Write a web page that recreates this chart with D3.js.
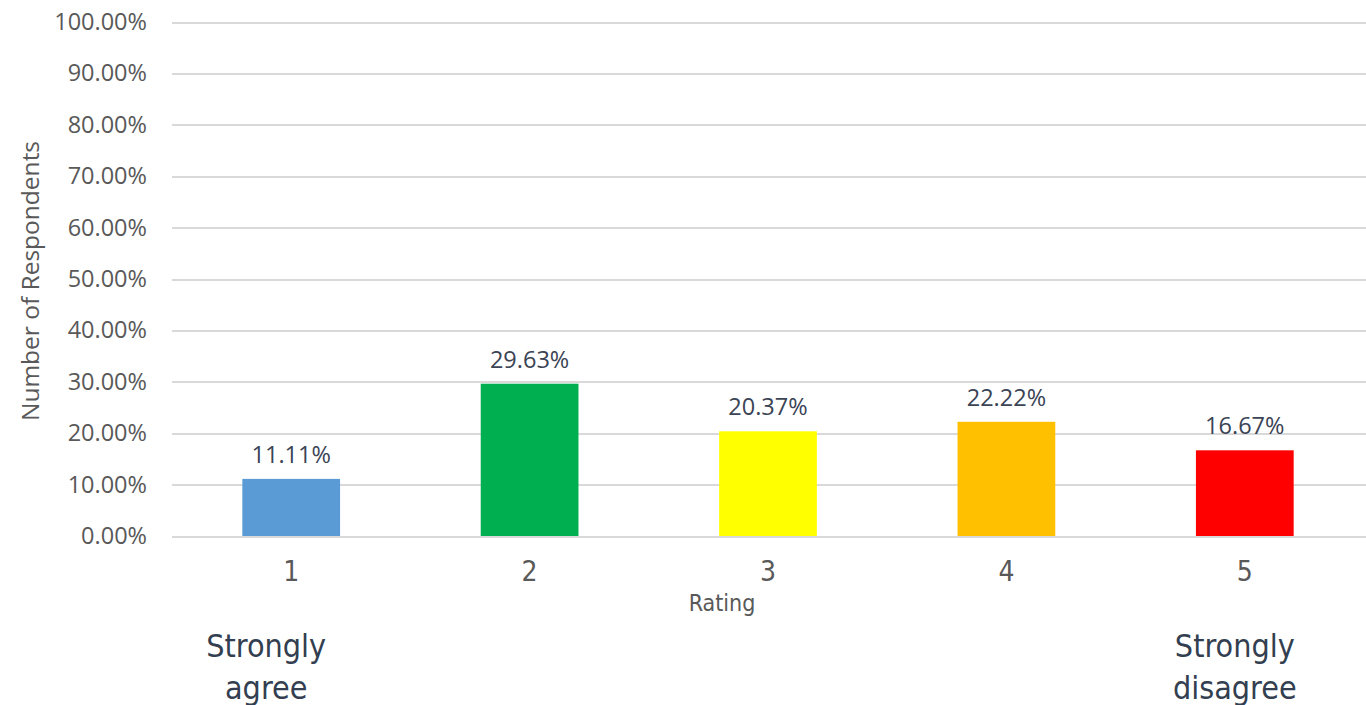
<!doctype html>
<html>
<head>
<script src="https://d3js.org/d3.v7.min.js"></script>
<style>
  body { margin: 0; background: #fff; }
  .grid line { stroke: #d9d9d9; stroke-width: 2; shape-rendering: crispEdges; }
  .grid path { display: none; }
  .ytick text { font-family: "Open Sans", sans-serif; font-size: 23.5px; fill: #595959; }
  .xtick text { font-family: "DejaVu Sans Condensed", "DejaVu Sans", sans-serif; font-size: 28px; fill: #595959; }
</style>
</head>
<body>
<script>
var ratings = ["1", "2", "3", "4", "5"];
var shares = [11.11, 29.63, 20.37, 22.22, 16.67];
var barColors = ["#5b9bd5", "#00b050", "#ffff00", "#ffc000", "#ff0000"];
var yTicks = [0, 10, 20, 30, 40, 50, 60, 70, 80, 90, 100];
var endLabels = [["Strongly", "agree"], [], [], [], ["Strongly", "disagree"]];

var width = 1366, height = 705;
var plotLeft = 172, plotRight = 1364, plotTop = 22, plotBottom = 536;

var svg = d3.select("body").append("svg").attr("width", width).attr("height", height);

var x = d3.scaleBand().domain(ratings).range([plotLeft, plotRight]).paddingInner(0.59).paddingOuter(0.295);
var y = d3.scaleLinear().domain([0, 100]).range([plotBottom, plotTop]);

// gridlines
svg.append("g").attr("class", "grid")
  .attr("transform", "translate(" + plotLeft + ",0)")
  .call(d3.axisLeft(y).tickValues(yTicks).tickSize(-(width - plotLeft)).tickFormat(""));

// y tick labels
svg.append("g").attr("class", "ytick")
  .attr("transform", "translate(" + (plotLeft - 22) + ",0)")
  .call(d3.axisLeft(y).tickValues(yTicks).tickSize(0).tickFormat(function(d) { return d.toFixed(2) + "%"; }))
  .call(function(g) { g.select(".domain").remove(); });

// bars
svg.selectAll(".bar").data(shares).enter().append("rect")
  .attr("class", "bar")
  .attr("x", function(d, i) { return x(ratings[i]); })
  .attr("y", function(d) { return y(d); })
  .attr("width", x.bandwidth())
  .attr("height", function(d) { return y(0) - y(d); })
  .style("fill", function(d, i) { return barColors[i]; });

// data labels
svg.selectAll(".val").data(shares).enter().append("text")
  .attr("x", function(d, i) { return x(ratings[i]) + x.bandwidth() / 2; })
  .attr("y", function(d) { return y(d) - 16; })
  .attr("text-anchor", "middle")
  .style("font-family", "Open Sans, sans-serif")
  .style("font-size", "23.5px")
  .style("fill", "#3b4455")
  .text(function(d) { return d.toFixed(2) + "%"; });

// x tick labels
svg.append("g").attr("class", "xtick")
  .attr("transform", "translate(0," + (plotBottom + 18) + ")")
  .call(d3.axisBottom(x).tickSize(0).tickPadding(0))
  .call(function(g) { g.select(".domain").remove(); g.selectAll("text").attr("dy", "0.95em"); });

// axis titles
svg.append("text")
  .attr("x", x("3") + x.bandwidth() / 2 - 46)
  .attr("y", 611)
  .attr("text-anchor", "middle")
  .style("font-family", "DejaVu Sans Condensed, sans-serif")
  .style("font-size", "23px")
  .style("fill", "#595959")
  .text("Rating");

svg.append("text")
  .attr("transform", "translate(39," + ((plotTop + plotBottom) / 2 + 2) + ") rotate(-90)")
  .attr("text-anchor", "middle")
  .style("font-family", "Open Sans, sans-serif")
  .style("font-size", "24.5px")
  .style("fill", "#595959")
  .text("Number of Respondents");

// end labels
endLabels.forEach(function(lines, i) {
  lines.forEach(function(t, j) {
    svg.append("text")
      .attr("x", x(ratings[i]) + x.bandwidth() / 2 + (i === 0 ? -25 : -10))
      .attr("y", 657 + j * 42)
      .attr("text-anchor", "middle")
      .style("font-family", "DejaVu Sans Condensed, sans-serif")
      .style("font-size", "32px")
      .style("fill", "#333f50")
      .text(t);
  });
});
</script>
</body>
</html>
